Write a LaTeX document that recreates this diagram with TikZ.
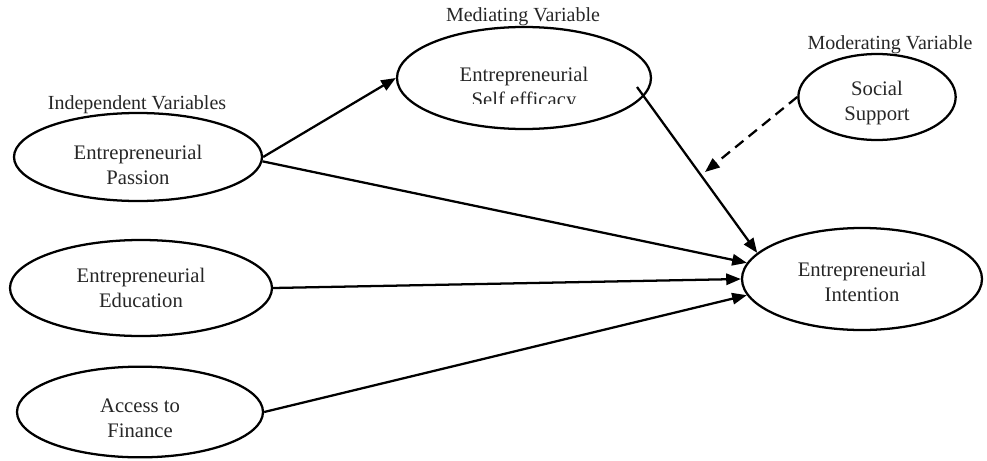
\documentclass[tikz,border=0pt]{standalone}
\usepackage{fontspec}
\setmainfont{Liberation Serif}
\usetikzlibrary{arrows.meta,shapes.geometric}
\begin{document}
\begin{tikzpicture}[x=0.75pt,y=-0.75pt,
  var/.style={draw,line width=1.7pt,ellipse,inner sep=0pt},
  lbl/.style={font=\fontsize{15.5}{19}\selectfont,align=center,text=black!85},
  vcaption/.style={font=\fontsize{15}{16}\selectfont,text=black!85},
  arr/.style={line width=1.7pt,-{Triangle[length=11pt,width=8.5pt]}}]
\useasboundingbox (0,0) rectangle (987,460);
% ellipses
\node[var,minimum width=186pt,minimum height=66pt] (pas) at (138,157) {};
\node[var,minimum width=196.5pt,minimum height=72pt] (edu) at (141,288) {};
\node[var,minimum width=184.5pt,minimum height=68pt] (acc) at (140,412) {};
\node[var,minimum width=190.5pt,minimum height=76.5pt] (se) at (524,78) {};
\node[var,minimum width=118pt,minimum height=64.5pt] (soc) at (877,97) {};
\node[var,minimum width=180pt,minimum height=76.5pt] (int) at (862,279) {};
% texts
\node[lbl] at (138,165) {Entrepreneurial\\Passion};
\node[lbl] at (edu) {Entrepreneurial\\Education};
\node[lbl] at (140,418) {Access to\\Finance};
\node[lbl] at (877,103) {Social\\Support};
\node[lbl] at (862,282) {Entrepreneurial\\Intention};
\begin{scope}
\clip (400,40) rectangle (650,103);
\node[lbl] at (524,89) {Entrepreneurial\\Self efficacy};
\end{scope}
% captions
\node[vcaption] at (523,17) {Mediating Variable};
\node[vcaption] at (890,45) {Moderating Variable};
\node[vcaption] at (137,105) {Independent Variables};
% connectors
\draw[arr] (pas.east) -- (se.west);
\draw[arr] (pas.-2) -- (int.172);
\draw[arr] (edu.east) -- (int.180);
\draw[arr] (acc.east) -- (int.188);
\coordinate (sestart) at (637,87);
\draw[arr] (sestart) -- (int.166);
\coordinate (modpt) at (705,172);
\draw[arr,dashed,dash pattern=on 8pt off 5pt] (soc.west) -- (modpt);
\end{tikzpicture}
\end{document}
